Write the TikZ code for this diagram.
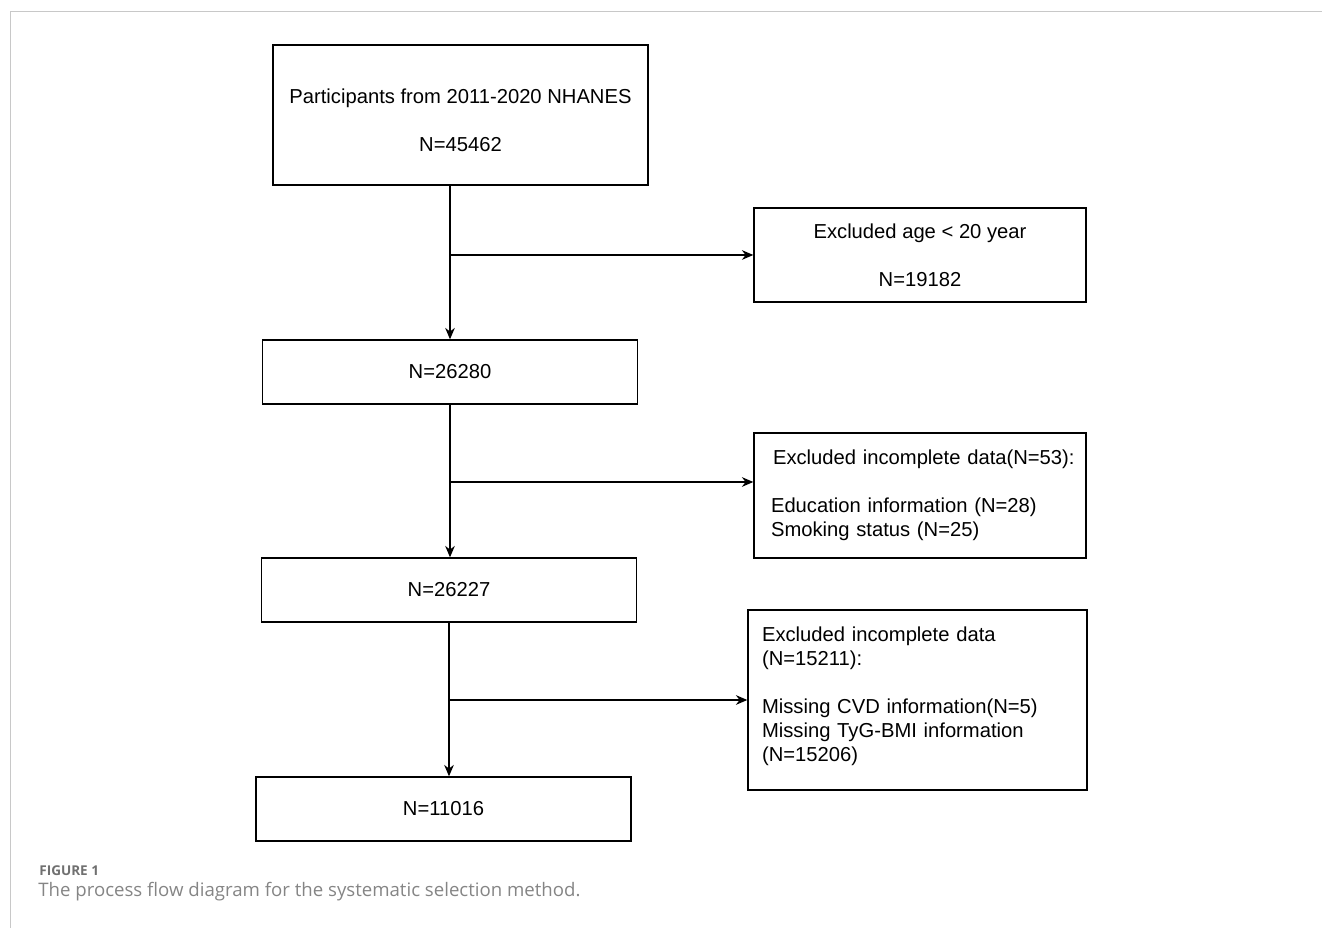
\documentclass[tikz,border=0pt]{standalone}
\usepackage{fontspec}
\setmainfont{Liberation Sans}
\newfontfamily\capfont{Open Sans}
\usetikzlibrary{arrows.meta}
\definecolor{framegray}{HTML}{C8C8C8}
\definecolor{capgray}{HTML}{707070}
\tikzset{
	stagebox/.style={draw, line width=0.8pt, minimum width=7.5cm, minimum height=1.28cm, inner sep=0pt, align=center, font=\fontsize{11.5}{13.7}\selectfont},
	exclbox/.style={draw, line width=0.8pt, inner ysep=0pt, align=left, font=\fontsize{11.5}{13.7}\selectfont},
	flow/.style={line width=0.7pt, -{Stealth[length=6.5pt, width=5.5pt]}}
}

\begin{document}
\begin{tikzpicture}[x=0.02cm, y=-0.02cm]
			%%%%% START %%%%%
			
			\useasboundingbox (0, 0) rectangle (1322, 928);
			\draw[line width=0.55pt, color=framegray] (1322, 11) -- (10, 11) -- (10, 928);
			
			\node[stagebox, minimum height=2.8cm] (start) at (460.5, 115) {\rule{0pt}{14pt}Participants from 2011-2020 NHANES\\[13.7pt]N=45462};
			\node[stagebox] (adults) at (450, 372) {N=26280};
			\node[stagebox] (complete) at (449, 590) {N=26227};
			\node[stagebox] (final) at (443.5, 809) {N=11016};
			
			\node[exclbox, align=center, minimum width=6.64cm, minimum height=1.88cm] (exage) at (920, 255) {Excluded age \textless{} 20 year\\[13.7pt]N=19182};
			\node[exclbox, inner xsep=0.34cm, text width=5.96cm, minimum height=2.5cm] (exdata) at (920, 495.5) {\hspace*{0.04cm}\mbox{Excluded incomplete data(N=53):}\\[13.7pt]Education information (N=28)\\Smoking status (N=25)};
			\node[exclbox, inner xsep=0.28cm, text width=6.22cm, minimum height=3.6cm] (exmiss) at (917.5, 700) {Excluded incomplete data\\(N=15211):\\[13.7pt]Missing CVD information(N=5)\\Missing TyG-BMI information\\(N=15206)\rule[-6.5pt]{0pt}{0pt}};
			
			\coordinate (j1) at (adults.north |- exage.west);
			\coordinate (j2) at (450, 482);
			\coordinate (j3) at (complete.south |- exmiss.west);
			
			\draw[flow] (start.south -| adults.north) -- (adults.north);
			\draw[flow] (j1) -- (exage.west);
			\draw[flow] (adults.south -| j2) -- (complete.north -| j2);
			\draw[flow] (j2) -- (j2 -| exdata.west);
			\draw[flow] (complete.south) -- (complete.south |- final.north);
			\draw[flow] (j3) -- (exmiss.west);
			
			\node[anchor=west, inner sep=0pt, color=capgray, font=\capfont\bfseries\fontsize{7.7}{9}\selectfont] (figno) at (39, 871) {FIGURE 1};
			\node[anchor=west, inner sep=0pt, color=capgray!85, font=\capfont\fontsize{10.6}{12}\selectfont] (caption) at (38, 892) {The process flow diagram for the systematic selection method.};
			
			%%%%% END %%%%%
\end{tikzpicture}
\end{document}
